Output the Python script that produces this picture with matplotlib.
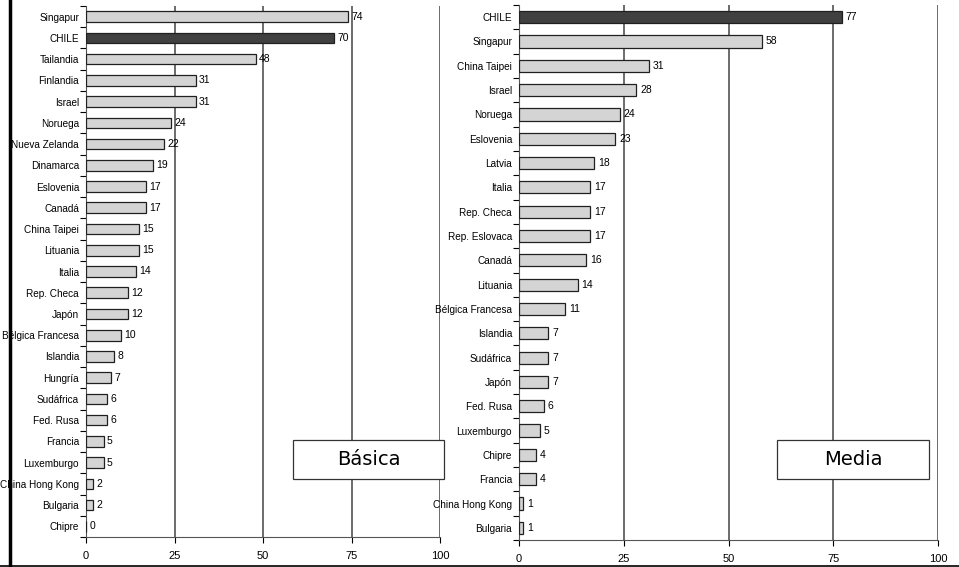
import numpy as np
import matplotlib.pyplot as plt
from matplotlib.patches import Rectangle
from matplotlib.lines import Line2D

# Básica
basica_paises = ['Singapur', 'CHILE', 'Tailandia', 'Finlandia', 'Israel', 'Noruega',
                 'Nueva Zelanda', 'Dinamarca', 'Eslovenia', 'Canadá', 'China Taipei',
                 'Lituania', 'Italia', 'Rep. Checa', 'Japón', 'Bélgica Francesa',
                 'Islandia', 'Hungría', 'Sudáfrica', 'Fed. Rusa', 'Francia',
                 'Luxemburgo', 'China Hong Kong', 'Bulgaria', 'Chipre']
basica_vals = [74, 70, 48, 31, 31, 24, 22, 19, 17, 17, 15, 15, 14, 12, 12, 10,
               8, 7, 6, 6, 5, 5, 2, 2, 0]

# Media
media_paises = ['CHILE', 'Singapur', 'China Taipei', 'Israel', 'Noruega', 'Eslovenia',
                'Latvia', 'Italia', 'Rep. Checa', 'Rep. Eslovaca', 'Canadá', 'Lituania',
                'Bélgica Francesa', 'Islandia', 'Sudáfrica', 'Japón', 'Fed. Rusa',
                'Luxemburgo', 'Chipre', 'Francia', 'China Hong Kong', 'Bulgaria']
media_vals = [77, 58, 31, 28, 24, 23, 18, 17, 17, 17, 16, 14, 11, 7, 7, 7, 6, 5,
              4, 4, 1, 1]

xticks = [0, 25, 50, 75, 100]

plt.rcParams['font.family'] = ['Liberation Sans', 'DejaVu Sans']

W, H = 959, 567
fig = plt.figure(figsize=(W / 100, H / 100), dpi=100)


def px_axes(x0, x1, ytop, ybot):
    return fig.add_axes([x0 / W, (H - ybot) / H, (x1 - x0) / W, (ybot - ytop) / H])


def panel(ax, paises, vals):
    n = len(paises)
    y = np.arange(n)
    colors = ['#404040' if p == 'CHILE' else '#d4d4d4' for p in paises]
    ax.barh(y, vals, height=0.5, color=colors, edgecolor='#202020', linewidth=0.9, zorder=3)
    for yi, v in zip(y, vals):
        ax.text(v + 0.9, yi, str(v), va='center', ha='left', fontsize=7.5, zorder=4)
    ax.set_xlim(0, 100)
    ax.set_ylim(n - 0.5, -0.5)
    ax.set_yticks(y)
    ax.set_yticklabels(paises, fontsize=7.2)
    ax.set_yticks(np.arange(n + 1) - 0.5, minor=True)
    ax.tick_params(axis='y', which='major', length=0, pad=5)
    ax.tick_params(axis='y', which='minor', length=4, direction='out', width=0.8)
    ax.set_xticks(xticks)
    ax.set_xticklabels([str(t) for t in xticks], fontsize=8)
    ax.tick_params(axis='x', length=4, width=0.8, pad=6)
    for t in xticks[1:]:
        ax.axvline(t, color='#444444', linewidth=1.1, zorder=1)
    for s in ['top', 'right']:
        ax.spines[s].set_visible(False)
    ax.spines['left'].set_color('#555555')
    ax.spines['bottom'].set_color('#555555')


ax1 = px_axes(86, 440, 6, 537)
panel(ax1, basica_paises, basica_vals)
ax2 = px_axes(519, 938, 5, 540)
panel(ax2, media_paises, media_vals)


def label_box(x0, x1, ytop, ybot, txt):
    fig.patches.append(Rectangle((x0 / W, (H - ybot) / H), (x1 - x0) / W, (ybot - ytop) / H,
                                 transform=fig.transFigure, facecolor='white',
                                 edgecolor='#333333', linewidth=0.9, zorder=5))
    fig.text((x0 + x1) / 2 / W, (H - (ytop + ybot) / 2) / H, txt, ha='center', va='center',
             fontsize=14, family='DejaVu Sans', zorder=6)


label_box(293, 444, 440, 479, 'Básica')
label_box(777, 929, 440, 479, 'Media')

# marco de la imagen
fig.lines.append(Line2D([9.5 / W, 9.5 / W], [0, 1], transform=fig.transFigure,
                        color='black', linewidth=2.5))
fig.lines.append(Line2D([0, 1], [1.5 / H, 1.5 / H], transform=fig.transFigure,
                        color='black', linewidth=1.2))

fig.savefig('out.png', dpi=100)
